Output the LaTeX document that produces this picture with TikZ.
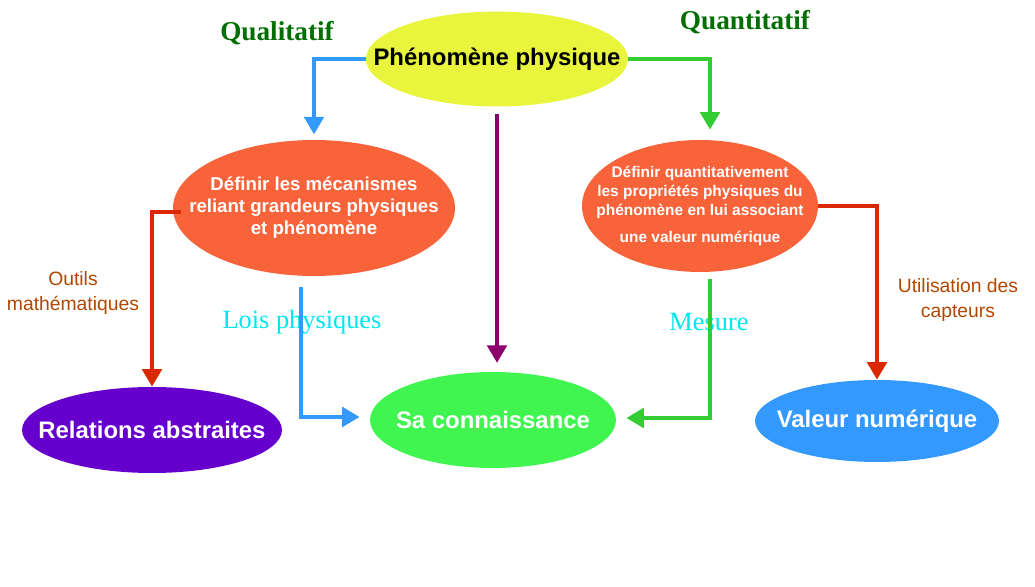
\documentclass[tikz,border=0pt]{standalone}
\usepackage{fontspec}
\setmainfont{Liberation Sans}
\newfontfamily\timesfont{Liberation Serif}
\usetikzlibrary{arrows.meta,shapes.geometric,calc}
\definecolor{lemon}{RGB}{232,245,60}
\definecolor{coral}{RGB}{249,99,58}
\definecolor{violet}{RGB}{102,0,204}
\definecolor{lime}{RGB}{64,245,80}
\definecolor{sky}{RGB}{51,153,255}
\definecolor{grass}{RGB}{51,204,51}
\definecolor{plum}{RGB}{140,0,110}
\definecolor{brick}{RGB}{220,40,0}
\definecolor{forest}{RGB}{0,110,0}
\definecolor{rust}{RGB}{180,70,0}
\definecolor{aqua}{RGB}{0,230,240}

\begin{document}
\begin{tikzpicture}[
  x=0.02cm, y=-0.02cm,
  bubble/.style={ellipse, inner xsep=-60pt, inner ysep=-20pt, align=center, text=white, font=\bfseries\fontsize{13.6}{16}\selectfont},
  link/.style={line width=2.8pt, -{Triangle[length=10pt,width=11pt]}},
  side/.style={text=rust, align=center, font=\fontsize{11}{14}\selectfont},
  law/.style={text=aqua, font=\timesfont\fontsize{15}{17}\selectfont},
  mode/.style={text=forest, font=\timesfont\bfseries\fontsize{15.5}{18}\selectfont}
]
\useasboundingbox (0,0) rectangle (1035,587);
\node[bubble, fill=lemon, text=black, minimum width=5.24cm, minimum height=1.9cm] (phen) at (497,59) {Phénomène physique};
\node[bubble, fill=coral, minimum width=5.64cm, minimum height=2.72cm, font=\bfseries\fontsize{10.6}{12.5}\selectfont] (qual) at (314,208)
  {Définir les mécanismes\\reliant grandeurs physiques\\et phénomène};
\node[bubble, fill=coral, minimum width=4.72cm, minimum height=2.64cm, font=\bfseries\fontsize{8.8}{10.8}\selectfont] (quant) at (700,206)
  {Définir quantitativement\\les propriétés physiques du\\phénomène en lui associant\\[5pt]une valeur numérique};
\node[bubble, fill=violet, minimum width=5.2cm, minimum height=1.72cm] (rel) at (152,430) {Relations abstraites};
\node[bubble, fill=lime, minimum width=4.92cm, minimum height=1.92cm] (conn) at (493,420) {Sa connaissance};
\node[bubble, fill=sky, minimum width=4.88cm, minimum height=1.64cm] (val) at (877,421) {Valeur numérique};

% labels
\node[mode] (qlbl) at (277,33) {Qualitatif};
\node[mode] (nlbl) at (745,22) {Quantitatif};
\node[side] (tools) at (73,293) {Outils\\mathématiques};
\node[side] (sensors) at (958,300) {Utilisation des\\capteurs};
\node[law] (laws) at (302,322) {Lois physiques};
\node[law] (meas) at (709,322) {Mesure};

% arrows
\draw[link, sky, shorten >=3pt] (phen.west) -| (qual.north);
\draw[link, grass] (phen.east) -| ($(quant.north)+(10,-10)$);
\draw[link, plum, shorten <=4pt, shorten >=5pt] (phen.south) -- (phen.south |- conn.north);
\draw[link, brick] ($(qual.west)+(8,4)$) -| (rel.north);
\draw[link, brick] (quant.east) -| (val.north);
\draw[link, sky] ($(qual.south)+(-13,11)$) |- ($(conn.west)+(-10,-3)$);
\draw[link, grass] ($(quant.south)+(10,7)$) |- ($(conn.east)+(10,-2)$);
\end{tikzpicture}
\end{document}
